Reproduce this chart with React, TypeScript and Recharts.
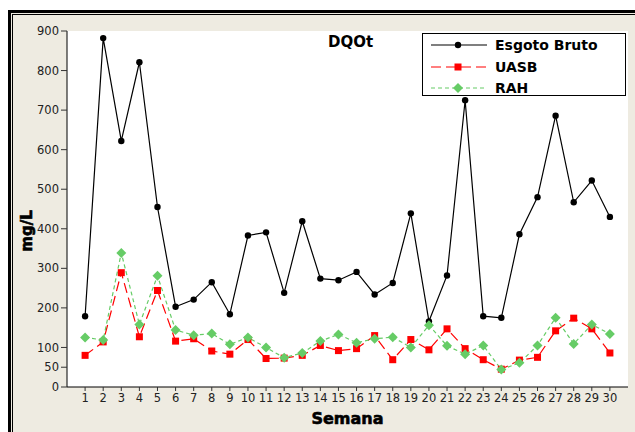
import React from 'react'
import {
  LineChart,
  Line,
  XAxis,
  YAxis,
  CartesianGrid,
} from 'recharts'

// semanas 1..30
const semanas = Array.from({ length: 30 }, (_, i) => i + 1)

const esgotoBruto = [
  179, 882, 622, 821, 455, 203, 221, 265, 184, 383,
  391, 238, 419, 274, 270, 291, 234, 263, 439, 166,
  282, 725, 179, 175, 386, 480, 686, 467, 522, 430,
]
const uasb = [
  80, 114, 289, 127, 244, 116, 122, 91, 83, 120,
  72, 73, 80, 105, 92, 97, 130, 69, 120, 94,
  147, 97, 69, 45, 68, 75, 142, 174, 147, 86,
]
const rah = [
  125, 119, 339, 158, 281, 144, 131, 135, 108, 125,
  100, 74, 86, 116, 133, 112, 122, 126, 100, 156,
  104, 83, 105, 44, 61, 105, 175, 109, 158, 134,
]

const yTicks = [0, 50, 100, 200, 300, 400, 500, 600, 700, 800, 900]

const data = semanas.map((s, i) => ({
  semana: s,
  bruto: esgotoBruto[i],
  uasb: uasb[i],
  rah: rah[i],
}))

const RED = '#ff0000'
const GREEN = '#66cc66'
const BEIGE = '#eeebe1'
const FONT = '"DejaVu Sans", Verdana, sans-serif'

const series = [
  { key: 'bruto', name: 'Esgoto Bruto', color: '#000000', dash: undefined, shape: 'circle' },
  { key: 'uasb', name: 'UASB', color: RED, dash: '10 5', shape: 'square' },
  { key: 'rah', name: 'RAH', color: GREEN, dash: '4 3', shape: 'diamond' },
]
const rowHeights = [22, 22, 20]

const Marker = ({ cx, cy, shape, color }: any) => {
  if (cx == null || cy == null) return null
  if (shape === 'square') {
    return <rect x={cx - 3.5} y={cy - 3.5} width={7} height={7} fill={color} />
  }
  if (shape === 'diamond') {
    return (
      <polygon
        points={`${cx},${cy - 5} ${cx + 5},${cy} ${cx},${cy + 5} ${cx - 5},${cy}`}
        fill={color}
      />
    )
  }
  return <circle cx={cx} cy={cy} r={3.2} fill={color} />
}

const LegendBox = () => (
  <div
    style={{
      position: 'absolute',
      left: 422,
      top: 33,
      border: '1px solid #000',
      background: '#fff',
      width: 202,
      height: 61,
      overflow: 'hidden',
      fontFamily: FONT,
      fontWeight: 'bold',
      fontSize: 14,
      lineHeight: '16px',
      color: '#000',
    }}
  >
    {series.map((s, i) => (
      <div key={s.key} style={{ display: 'flex', alignItems: 'center', height: rowHeights[i] }}>
        <svg width={68} height={14} style={{ marginLeft: 4 }}>
          <line x1={4} y1={7} x2={60} y2={7} stroke={s.color} strokeWidth={1.2} strokeDasharray={s.dash} />
          <Marker cx={31} cy={7} shape={s.shape} color={s.color} />
        </svg>
        <span>{s.name}</span>
      </div>
    ))}
  </div>
)

const App: React.FC = () => {
  return (
    <div style={{ position: 'absolute', left: 0, top: 0, width: 635, height: 432, background: '#fff', overflow: 'hidden' }}>
      {/* moldura */}
      <div
        style={{
          position: 'absolute',
          left: 8,
          top: 10,
          width: 660,
          height: 460,
          borderTop: '3px solid #000',
          borderLeft: '3px solid #000',
          background: BEIGE,
        }}
      >
        <div style={{ position: 'absolute', left: 1, top: 1, right: 0, bottom: 0, borderTop: '1px solid #000', borderLeft: '1px solid #000' }} />
      </div>

      <div style={{ position: 'absolute', left: 0, top: 0 }}>
        <LineChart
          width={635}
          height={432}
          data={data}
          margin={{ top: 31, right: 7, bottom: 0, left: 0 }}
        >
          <CartesianGrid fill="#fff" horizontal={false} vertical={false} />
          <XAxis
            dataKey="semana"
            type="number"
            domain={[0, 31]}
            ticks={semanas}
            interval={0}
            height={45}
            tickSize={4}
            tickMargin={3}
            axisLine={{ stroke: '#000' }}
            tickLine={{ stroke: '#333' }}
            tick={{ fill: '#222', fontSize: 11.5, fontFamily: FONT }}
            label={{
              content: ({ viewBox }: any) => (
                <text
                  x={viewBox.x + viewBox.width / 2}
                  y={viewBox.y + 37}
                  textAnchor="middle"
                  fontFamily={FONT}
                  fontWeight="bold"
                  fontSize={16}
                  fill="#000"
                  stroke="#000"
                  strokeWidth={0.6}
                >
                  Semana
                </text>
              ),
            }}
          />
          <XAxis xAxisId="top" orientation="top" dataKey="semana" type="number" domain={[0, 31]} height={0} tick={false} tickLine={false} axisLine={{ stroke: '#333' }} />
          <YAxis
            domain={[0, 900]}
            ticks={yTicks}
            interval={0}
            width={67}
            tickSize={6}
            tickMargin={2}
            axisLine={{ stroke: '#000' }}
            tickLine={{ stroke: '#333' }}
            tick={{ fill: '#222', fontSize: 11.5, fontFamily: FONT }}
            label={{
              content: ({ viewBox }: any) => {
                const cx = 27
                const cy = viewBox.y + viewBox.height / 2 + 22
                return (
                  <text
                    x={cx}
                    y={cy}
                    transform={`rotate(-90 ${cx} ${cy})`}
                    textAnchor="middle"
                    dominantBaseline="central"
                    fontFamily={FONT}
                    fontWeight="bold"
                    fontSize={15}
                    fill="#000"
                    stroke="#000"
                    strokeWidth={0.6}
                  >
                    mg/L
                  </text>
                )
              },
            }}
          />
          <YAxis yAxisId="right" orientation="right" domain={[0, 900]} width={0} tick={false} tickLine={false} axisLine={{ stroke: '#333' }} />
          {series.map((s) => (
            <Line
              key={s.key}
              dataKey={s.key}
              name={s.name}
              type="linear"
              stroke={s.color}
              strokeWidth={1.2}
              strokeDasharray={s.dash}
              dot={(p: any) => <Marker key={`${s.key}-${p.index}`} cx={p.cx} cy={p.cy} shape={s.shape} color={s.color} />}
              activeDot={false}
              isAnimationActive={false}
            />
          ))}
        </LineChart>
      </div>

      <LegendBox />

      <div
        style={{
          position: 'absolute',
          left: 328,
          top: 33,
          fontFamily: FONT,
          fontWeight: 'bold',
          fontSize: 15,
          color: '#000',
        }}
      >
        DQOt
      </div>
    </div>
  )
}

export default App
